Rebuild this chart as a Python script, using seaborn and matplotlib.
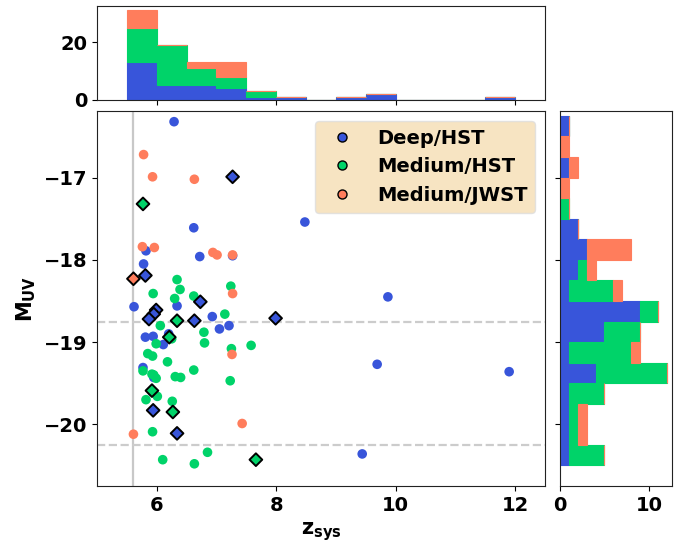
import numpy as np
import pandas as pd
import matplotlib
matplotlib.use("Agg")
import matplotlib.pyplot as plt
from matplotlib.lines import Line2D
import seaborn as sns

sns.set_style("ticks")
plt.rcParams["font.family"] = ["DejaVu Sans"]
plt.rcParams["font.weight"] = "bold"
plt.rcParams["axes.labelweight"] = "bold"
plt.rcParams["font.size"] = 14
plt.rcParams["text.color"] = "black"
plt.rcParams["axes.labelcolor"] = "black"
plt.rcParams["xtick.color"] = "black"
plt.rcParams["ytick.color"] = "black"
plt.rcParams["axes.edgecolor"] = "#222222"

samples = ["Deep/HST", "Medium/HST", "Medium/JWST"]
colors = ["#3855DA", "#00D369", "#FF7D5C"]

# Deep/HST
deep_z = [6.29, 8.48, 6.62, 5.82, 6.72, 7.27, 5.78, 5.62, 6.34, 6.93, 7.05, 7.21,
          5.81, 5.94, 6.11, 9.87, 5.77, 9.69, 11.90, 9.44, 5.95, 5.92, 6.20]
deep_m = [-16.32, -17.54, -17.61, -17.89, -17.96, -17.95, -18.05, -18.57, -18.56, -18.69, -18.84, -18.80,
          -18.94, -18.93, -19.03, -18.45, -19.31, -19.27, -19.36, -20.36, -19.43, -19.60, -18.90]
deep_dz = [7.27, 5.81, 6.73, 5.99, 5.95, 5.87, 6.63, 7.99, 5.94, 6.34]
deep_dm = [-16.99, -18.19, -18.51, -18.61, -18.66, -18.72, -18.74, -18.71, -19.83, -20.11]

# Medium/HST
med_z = [6.34, 6.39, 5.94, 6.30, 6.62, 7.24, 7.14, 6.06, 6.79, 6.25, 5.99, 6.80, 7.58,
         7.25, 5.85, 5.93, 6.18, 5.77, 5.92, 5.99, 6.31, 6.40, 6.62, 7.23, 6.01, 5.82,
         6.26, 5.93, 6.10, 6.63, 6.85, 5.95]
med_m = [-18.24, -18.36, -18.41, -18.47, -18.44, -18.32, -18.66, -18.80, -18.88, -18.96, -19.02, -19.01, -19.04,
         -19.08, -19.14, -19.17, -19.24, -19.35, -19.39, -19.44, -19.42, -19.43, -19.34, -19.47, -19.66, -19.70,
         -19.72, -20.09, -20.43, -20.48, -20.34, -19.40]
med_dz = [5.77, 6.34, 6.21, 5.92, 6.27, 7.66]
med_dm = [-17.32, -18.74, -18.94, -19.59, -19.85, -20.43]

# Medium/JWST
jw_z = [5.78, 5.93, 6.63, 5.76, 5.96, 6.94, 7.01, 7.27, 7.27, 7.26, 7.43, 5.61]
jw_m = [-16.72, -16.99, -17.02, -17.84, -17.85, -17.91, -17.94, -17.94, -18.41, -19.15, -19.99, -20.12]
jw_dz = [5.61]
jw_dm = [-18.23]

z_bins = np.arange(5.5, 12.01, 0.5)
m_bins = np.arange(-20.5, -16.24, 0.25)
x_ticks = [6, 8, 10, 12]
y_ticks = [-17, -18, -19, -20]

groups = [(deep_z, deep_m, deep_dz, deep_dm), (med_z, med_m, med_dz, med_dm), (jw_z, jw_m, jw_dz, jw_dm)]
rows = []
for name, (cz, cm, dz, dm) in zip(samples, groups):
    for a, b in zip(cz, cm):
        rows.append((name, a, b, False))
    for a, b in zip(dz, dm):
        rows.append((name, a, b, True))
df = pd.DataFrame(rows, columns=["sample", "z", "muv", "diamond"])
pal = dict(zip(samples, colors))

fig = plt.figure(figsize=(6.89, 5.42), dpi=100)
ax = fig.add_axes([97/689, 56/542, 448/689, 375/542])
ax_top = fig.add_axes([97/689, (542-99.5)/542, 448/689, 93.5/542])
ax_r = fig.add_axes([560/689, 56/542, 112/689, 375/542])

xlim = (5.0, 12.5)
ylim = (-20.75, -16.19)

# reference lines
ax.axvline(5.6, color="#c8c8c8", lw=1.6, zorder=0)
for yv in [-18.75, -20.25]:
    ax.axhline(yv, color="#cccccc", lw=1.6, ls="--", zorder=0)

sns.scatterplot(data=df[~df["diamond"]], x="z", y="muv", hue="sample", hue_order=samples,
                palette=pal, s=48, linewidth=0, legend=False, ax=ax, zorder=2)
sns.scatterplot(data=df[df["diamond"]], x="z", y="muv", hue="sample", hue_order=samples,
                palette=pal, marker="D", s=42, edgecolor="black", linewidth=1.4,
                legend=False, ax=ax, zorder=3)

ax.set_xlim(*xlim)
ax.set_ylim(*ylim)
ax.set_xticks(x_ticks)
ax.set_yticks(y_ticks)
ax.set_xlabel(r"$\mathbf{z_{sys}}$", fontsize=15)
ax.set_ylabel(r"$\mathbf{M_{UV}}$", fontsize=15)
ax.tick_params(labelsize=14)
for lab in ax.get_xticklabels() + ax.get_yticklabels():
    lab.set_fontweight("bold")

handles = [Line2D([], [], marker="o", ls="none", markerfacecolor=c, markeredgecolor="black",
                  markeredgewidth=1.0, markersize=6.5, label=s) for s, c in zip(samples, colors)]
leg = ax.legend(handles=handles, loc="upper right", prop={"weight": "bold", "size": 14},
                facecolor="wheat", framealpha=0.8, edgecolor="#dddddd")

stack_order = samples[::-1]
sns.histplot(data=df, x="z", hue="sample", hue_order=stack_order, palette=pal, bins=z_bins,
             multiple="stack", alpha=1, legend=False, ax=ax_top)
sns.histplot(data=df, y="muv", hue="sample", hue_order=stack_order, palette=pal, bins=m_bins,
             multiple="stack", alpha=1, legend=False, ax=ax_r)
for a in (ax_top, ax_r):
    for p in a.patches:
        p.set_edgecolor(p.get_facecolor())
        p.set_linewidth(0.8)
    a.set_xlabel("")
    a.set_ylabel("")
    for sp in a.spines.values():
        sp.set_visible(True)

ax_top.set_xlim(*xlim)
ax_top.set_xticks(x_ticks)
ax_top.tick_params(labelbottom=False, labelsize=14)
ax_top.set_yticks([0, 20])
ax_r.set_ylim(*ylim)
ax_r.set_yticks(y_ticks)
ax_r.tick_params(labelleft=False, labelsize=14)
ax_r.set_xticks([0, 10])
for a in (ax_top, ax_r):
    for lab in a.get_xticklabels() + a.get_yticklabels():
        lab.set_fontweight("bold")

fig.savefig("out.png", dpi=100)
